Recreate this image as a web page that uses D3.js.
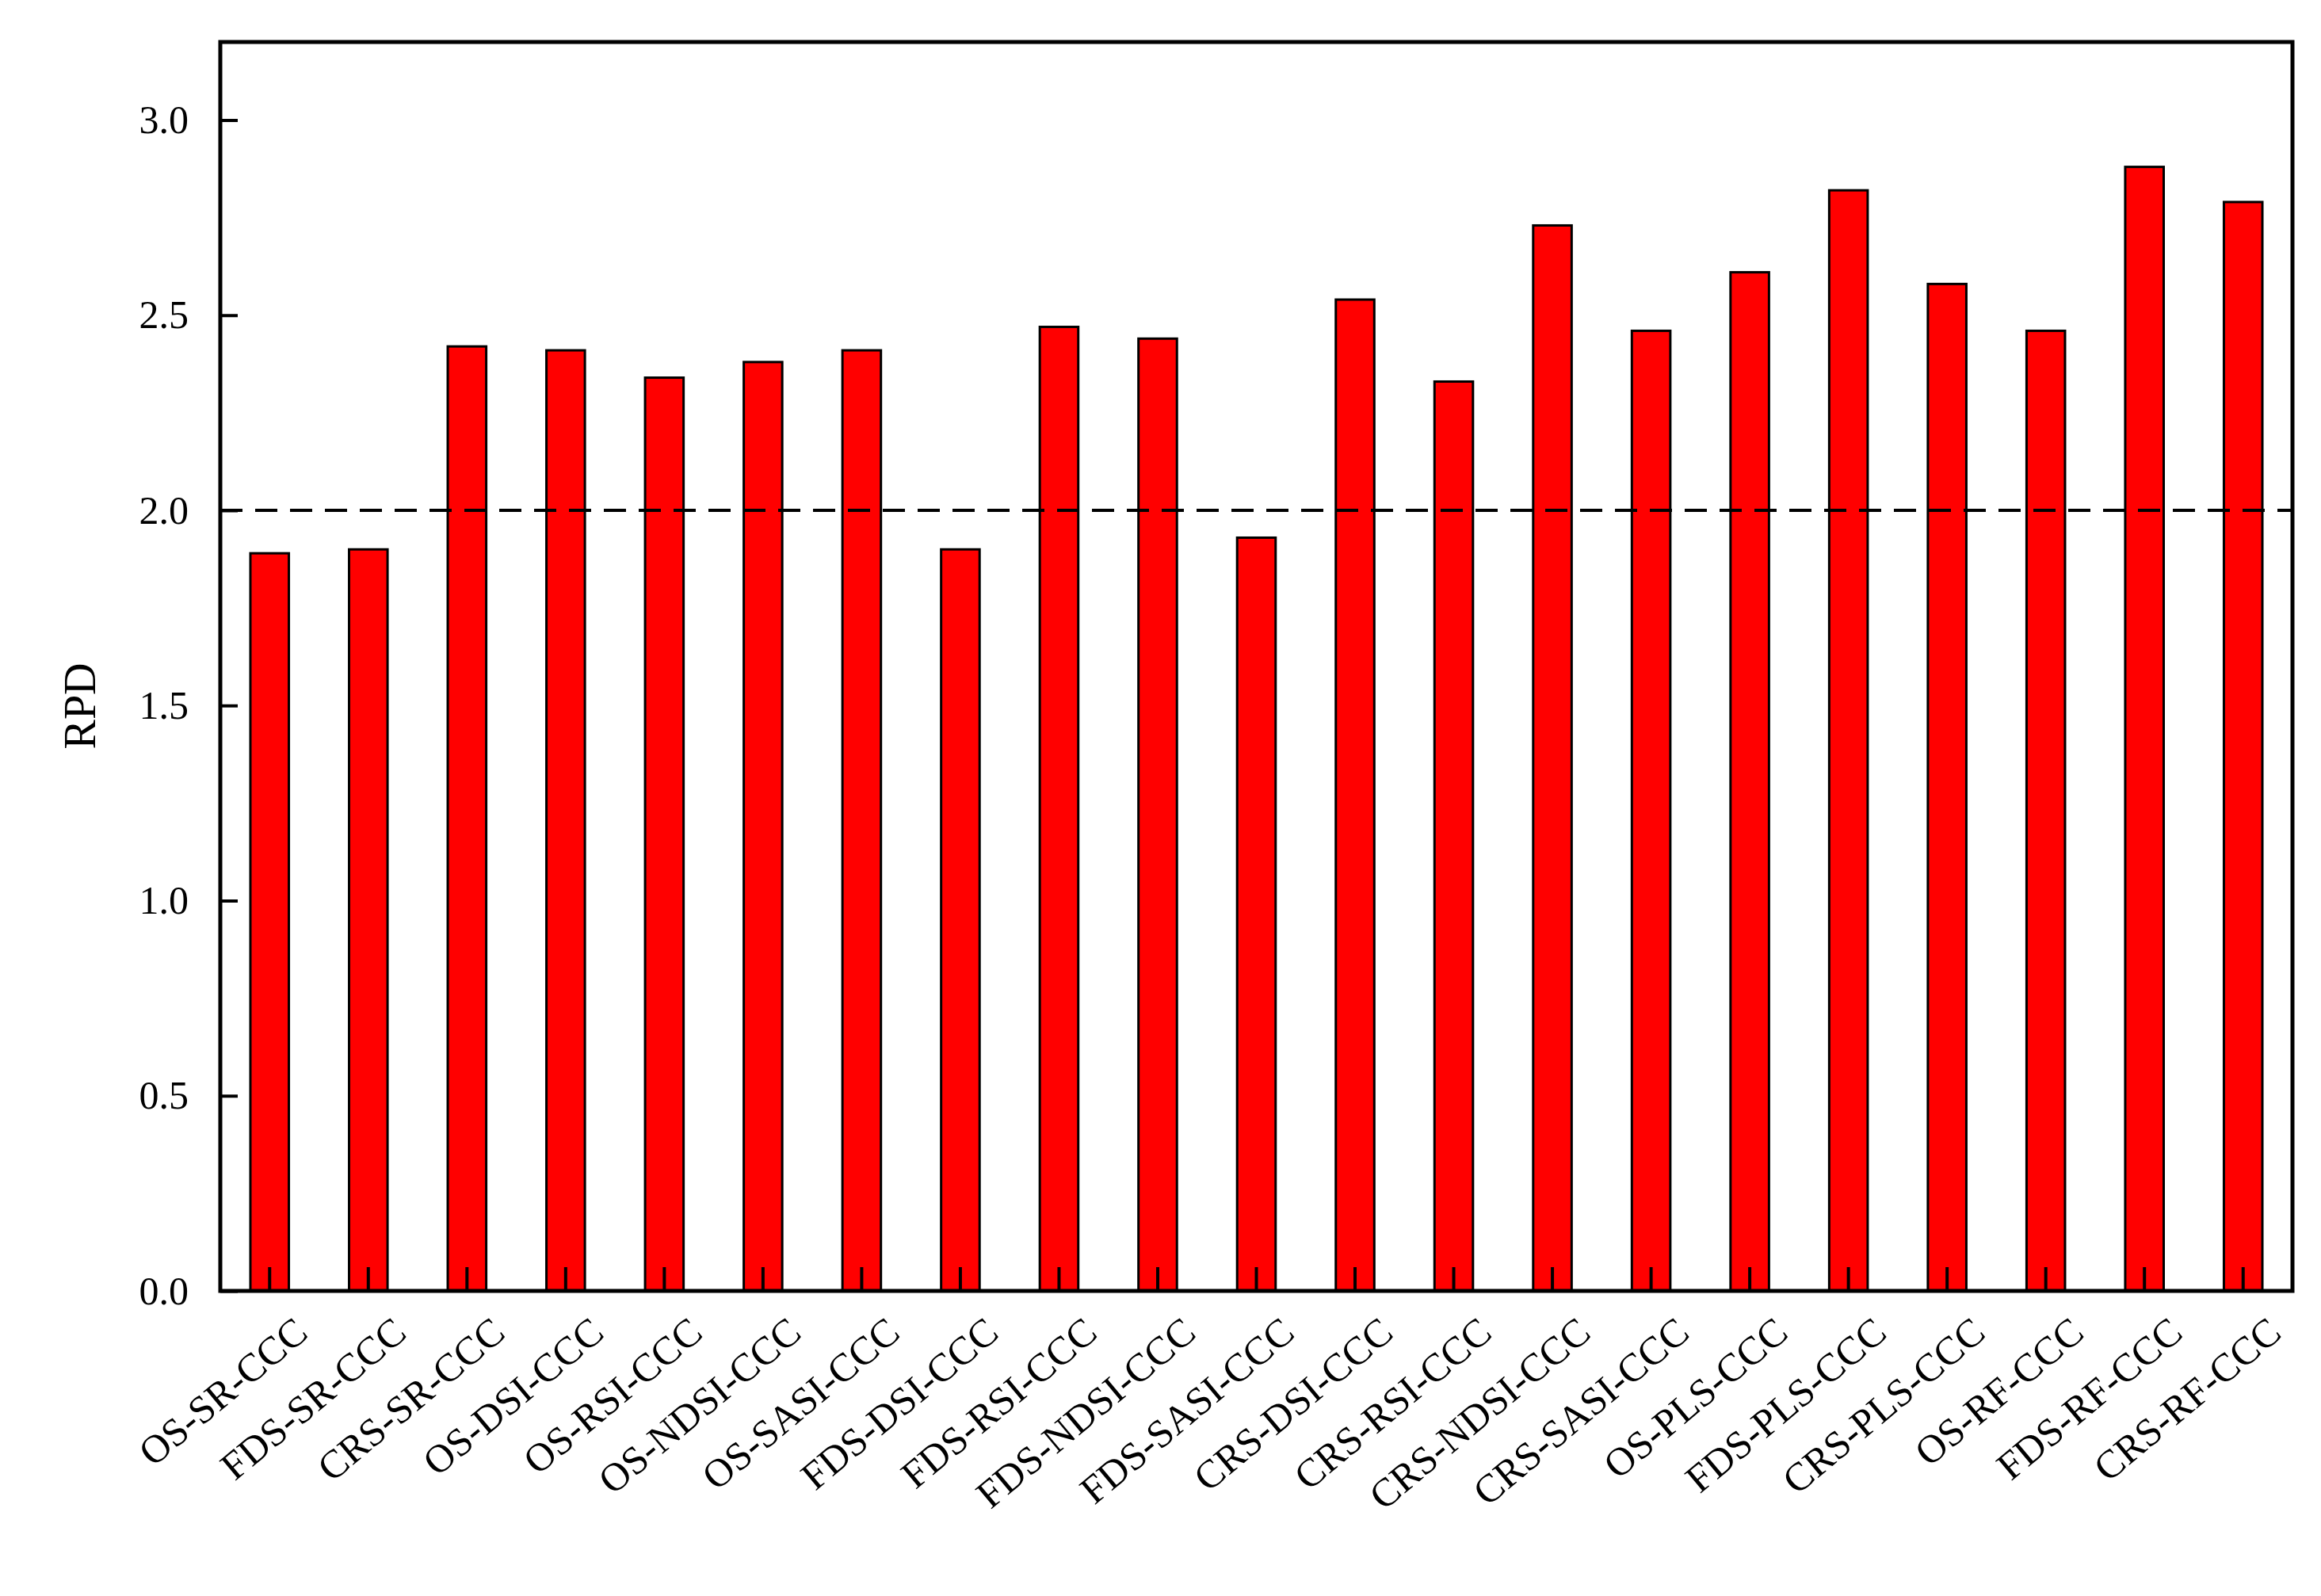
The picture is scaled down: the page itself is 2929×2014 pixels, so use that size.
<!DOCTYPE html>
<html><head><meta charset="utf-8">
<script src="https://cdn.jsdelivr.net/npm/d3@7"></script>
<style>body{margin:0;background:#fff}</style>
</head><body>
<svg id="chart" width="2929" height="2014"></svg>
<script>
const categories = ["OS-SR-CCC","FDS-SR-CCC","CRS-SR-CCC","OS-DSI-CCC","OS-RSI-CCC","OS-NDSI-CCC","OS-SASI-CCC","FDS-DSI-CCC","FDS-RSI-CCC","FDS-NDSI-CCC","FDS-SASI-CCC","CRS-DSI-CCC","CRS-RSI-CCC","CRS-NDSI-CCC","CRS-SASI-CCC","OS-PLS-CCC","FDS-PLS-CCC","CRS-PLS-CCC","OS-RF-CCC","FDS-RF-CCC","CRS-RF-CCC"];
const rpd = [1.89,1.90,2.42,2.41,2.34,2.38,2.41,1.90,2.47,2.44,1.93,2.54,2.33,2.73,2.46,2.61,2.82,2.58,2.46,2.88,2.79];
const yTicks = [0.0,0.5,1.0,1.5,2.0,2.5,3.0];
const threshold = 2.0;

const svg = d3.select("#chart");
const L = 278, R = 2893, T = 53, B = 1629;
const font = "'Liberation Serif', 'Times New Roman', serif";

const x = d3.scaleBand().domain(categories).range([L, R]).padding(0);
const y = d3.scaleLinear().domain([0, 3.2]).range([B, T]);
const bw = x.bandwidth() * 0.39;

svg.selectAll("rect.bar").data(categories).enter().append("rect")
  .attr("class", "bar")
  .attr("x", (d) => x(d) + x.bandwidth() / 2 - bw / 2)
  .attr("y", (d, i) => y(rpd[i]))
  .attr("width", bw)
  .attr("height", (d, i) => B - y(rpd[i]))
  .attr("fill", "#ff0000").attr("stroke", "#000").attr("stroke-width", 3);

svg.append("line")
  .attr("x1", L).attr("x2", R).attr("y1", y(threshold)).attr("y2", y(threshold))
  .attr("stroke", "#000").attr("stroke-width", 4).attr("stroke-dasharray", "28,16");

// y axis
const ya = svg.append("g").attr("transform", `translate(${L},0)`)
  .call(d3.axisLeft(y).tickValues(yTicks).tickFormat(d3.format(".1f")).tickSizeInner(-22).tickSizeOuter(0).tickPadding(40));
ya.select(".domain").remove();
ya.selectAll("line").attr("stroke-width", 4);
ya.selectAll("text").style("font-family", font).style("font-size", "50px").attr("fill", "#000");

// x axis
const xa = svg.append("g").attr("transform", `translate(0,${B})`)
  .call(d3.axisBottom(x).tickSizeInner(-30).tickSizeOuter(0).tickPadding(18));
xa.select(".domain").remove();
xa.selectAll("line").attr("stroke-width", 4);
xa.selectAll("text").style("font-family", font).style("font-size", "50px").attr("fill", "#000")
  .attr("text-anchor", "end").attr("dy", "0.6em")
  .attr("transform", "translate(20,20) rotate(-40)");

svg.append("rect").attr("x", L).attr("y", T).attr("width", R - L).attr("height", B - T)
  .attr("fill", "none").attr("stroke", "#000").attr("stroke-width", 5);

svg.append("text")
  .attr("transform", `translate(120,${(T + B) / 2 + 50}) rotate(-90)`)
  .attr("text-anchor", "middle")
  .style("font-family", font).style("font-size", "56px").text("RPD");
</script>
</body></html>
